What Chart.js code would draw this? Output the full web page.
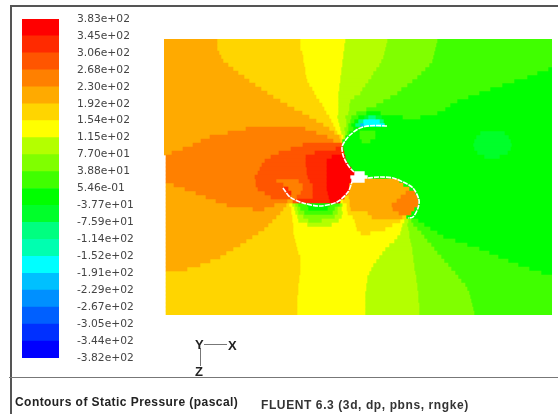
<!DOCTYPE html>
<html>
<head>
<meta charset="utf-8">
<script src="https://cdn.jsdelivr.net/npm/chart.js@4"></script>
<style>
  html, body { margin: 0; padding: 0; background: #fff; overflow: hidden; }
  #page { position: relative; width: 558px; height: 414px; filter: blur(0.55px); }
  #page canvas, .line, .txt { position: absolute; }
  .line { background: #555; }
  .txt { font-family: "Liberation Sans", sans-serif; color: #222; white-space: nowrap; }
</style>
</head>
<body>
<div id="page">
  <div class="line" style="left:10px;top:5px;width:548px;height:2px"></div>
  <div class="line" style="left:10px;top:5px;width:2px;height:409px"></div>
  <div class="line" style="left:9px;top:377px;width:549px;height:1px;background:#777"></div>
  <div class="line" style="left:204px;top:344px;width:23px;height:1px;background:#777"></div>
  <div class="line" style="left:200px;top:348px;width:1px;height:18px;background:#777"></div>
  <div class="txt" style="left:195px;top:337px;font-size:13px;font-weight:bold">Y</div>
  <div class="txt" style="left:228px;top:338px;font-size:13px;font-weight:bold">X</div>
  <div class="txt" style="left:195px;top:364px;font-size:13px;font-weight:bold">Z</div>
  <div class="txt" style="left:15px;top:395px;font-size:12px;font-weight:bold;letter-spacing:.44px">Contours of Static Pressure (pascal)</div>
  <div class="txt" style="left:261px;top:398px;font-size:12px;letter-spacing:.6px;font-weight:bold;color:#333">FLUENT 6.3 (3d, dp, pbns, rngke)</div>
  <canvas id="bar" width="120" height="359" style="left:22px;top:9px"></canvas>
  <canvas id="field" width="388" height="276" style="left:164px;top:39px"></canvas>
  <canvas id="blade" width="388" height="276" style="left:164px;top:39px"></canvas>
</div>
<script>
// colour legend, top to bottom
const tickLabels = ['3.83e+02','3.45e+02','3.06e+02','2.68e+02','2.30e+02','1.92e+02','1.54e+02','1.15e+02','7.70e+01','3.88e+01','5.46e-01',
  '-3.77e+01','-7.59e+01','-1.14e+02','-1.52e+02','-1.91e+02','-2.29e+02','-2.67e+02','-3.05e+02','-3.44e+02','-3.82e+02'];
const levelColors = ['#ff0000','#ff2a00','#ff5500','#ff8000','#ffaa00','#ffd500','#ffff00','#b4ff00','#80ff00','#40ff00','#00ff00',
  '#00ff2a','#00ff80','#00ffb0','#00ffff','#00c0ff','#0090ff','#0060ff','#0030ff','#0000ff'];
const levelKeys = 'abcdefghijklmnopqrst';

// contour field, one string per row, top row first.
// each token is a level letter and the x where that run stops, "." means no data
const fieldRows = [
  'e217 f300 g345 h387 i437 j552',
  'e217 f300 g344 h386 i436 j552',
  'e217 f300 g344 h385 i435 j552',
  'e219 f302 g343 h384 i434 j552',
  'e221 f303 g343 h383 i433 j552',
  'e223 f303 g342 h381 i432 j552',
  'e228 f304 g342 h379 i429 j552',
  'e233 f305 g341 h376 i425 j548 k552',
  'e238 f305 g341 h373 i421 j537 k552',
  'e244 f306 g340 h371 i417 j527 k552',
  'e249 f307 g340 h368 i412 j514 k552',
  'e255 f309 g339 h365 i407 j502 k552',
  'e261 f312 g339 h362 i401 j490 k552',
  'e267 f314 g338 h360 i397 j479 k552',
  'e273 f316 g338 h354 i390 j468 k552',
  'e280 f319 g338 h350 i383 j457 k552',
  'e287 f322 g338 h349 i376 j450 k552',
  'e294 f324 g338 h349 i366 j445 k552',
  'e302 f326 g338 h348 i356 j366 k381 j437 k552',
  'e309 f329 g337 h345 i351 j358 k364 l368 m376 l382 k403 j420 k552',
  'e316 f331 g338 h346 i350 j354 k358 m363 o380 m384 k552',
  'e323 f333 g339 h346 i348 j351 k355 m360 p364 o385 k552',
  'e246 d305 e329 f335 g340 h344 i348 j353 k552',
  'e228 d316 e334 f337 g341 h345 i347 j349 k360 j375 k480 l505 k552',
  'e210 d327 e339 f341 g343 h345 k360 j375 k476 l509 k552',
  'e201 d333 e340 f342 k362 j370 k474 l511 k552',
  'e193 d303 c342 k473 l512 k552',
  'e183 d291 c336 b343 k474 l511 k552',
  'e172 d279 c315 b344 k477 l508 k552',
  '.166 d271 c306 b332 a345 k484 l500 k552',
  '.166 d265 c306 b327 a346 k552',
  '.166 d262 c306 b327 a348 k552',
  '.166 d260 c307 b327 a351 k552',
  '.166 d258 c307 b327 a354 .365 k552',
  '.166 d255 c308 b327 a350 .368 k552',
  '.166 d256 c276 d299 c310 b327 a351 .365 e399 k552',
  '.166 e174 d256 c283 d303 c313 b327 a349 e403 k552',
  '.166 e185 d258 c284 b288 d303 c313 b327 a349 e409 k552',
  '.166 e196 d265 c287 b291 d301 c313 b328 a347 e406 d415 k552',
  '.166 e206 d271 c290 d297 c313 b329 a344 f349 e401 d417 k552',
  '.166 e216 d287 e293 c298 b330 a340 g343 f350 e397 d418 k552',
  '.166 e227 d274 e286 f289 g292 h295 i298 j307 k330 j340 i342 h343 g347 f350 e392 d418 k552',
  '.166 e253 d264 e283 f291 g294 h297 i300 j308 k328 j335 i338 h342 g347 f351 e393 d414 k552',
  '.166 e280 f291 g295 h298 i304 j333 i338 h343 g348 f368 e399 d411 k552',
  '.166 e276 f292 g297 h303 i335 h342 g353 f372 e402 f406 k552',
  '.166 e272 f292 g298 h308 i322 h339 g355 f400 g404 h408 i411 j418 k552',
  '.166 e268 f293 g307 h332 g356 f392 g402 h407 i413 j424 k552',
  '.166 e264 f293 g357 f385 g401 h408 i417 j430 k552',
  '.166 e258 f293 g361 f370 g400 h409 i421 j437 k552',
  '.166 e252 f294 g397 h409 i424 j443 k552',
  '.166 e246 f295 g394 h410 i427 j455 k552',
  '.166 e240 f296 g389 h411 i431 j467 k552',
  '.166 e233 f297 g385 h412 i434 j479 k552',
  '.166 e226 f298 g382 h412 i437 j489 k552',
  '.166 e220 f300 g379 h413 i441 j498 k552',
  '.166 e210 f300 g376 h413 i444 j508 k552',
  '.166 e200 f300 g373 h414 i448 j518 k552',
  '.166 e187 f300 g371 h414 i451 j529 k552',
  '.166 f300 g369 h415 i455 j541 k552',
  '.166 f299 g367 h416 i458 j552',
  '.166 f299 g367 h416 i461 j552',
  '.166 f298 g366 h417 i465 j552',
  '.166 f298 g366 h417 i467 j552',
  '.166 f298 g365 h418 i469 j552',
  '.166 f297 g365 h418 i470 j552',
  '.166 f297 g365 h418 i471 j552',
  '.166 f297 g365 h419 i472 j552',
  '.166 f297 g365 h419 i473 j552',
  '.166 f297 g365 h419 i474 j552'
];

// white blade outlines
const bladeUpper = [[387,126],[375,125.5],[365,126.5],[358,129],[350,135],[345,141],[342,147],[343,155],[346,162],[350,168],[354,172]];
const bladeLower = [[283,188],[290,197],[303,203],[320,206],[337,202],[348,192],[352,182]];
const bladeRight = [[368,178],[380,177],[393,178],[403,182],[413,188],[419,200],[418,208],[413,217],[408,218]];

// turn the rows into floating bars, one dataset per level
const rowNames = fieldRows.map((r, i) => String(i));
const fieldSets = levelColors.map(c => ({ data: [], backgroundColor: c, borderWidth: 0 }));
fieldRows.forEach((row, i) => {
    let start = 164;
    row.split(' ').forEach(tok => {
        const key = tok[0], end = Number(tok.slice(1));
        if (key !== '.') {
            fieldSets[levelKeys.indexOf(key)].data.push({ x: [start, end], y: rowNames[i] });
        }
        start = end;
    });
});

new Chart(document.getElementById('field'), {
    type: 'bar',
    data: { labels: rowNames, datasets: fieldSets.filter(s => s.data.length) },
    options: {
        indexAxis: 'y',
        responsive: false,
        animation: false,
        devicePixelRatio: 1,
        layout: { padding: 0 },
        plugins: { legend: { display: false }, tooltip: { enabled: false } },
        datasets: { bar: { grouped: false, barPercentage: 1, categoryPercentage: 1 } },
        scales: {
            x: { type: 'linear', min: 164, max: 552, display: false },
            y: { display: false }
        }
    }
});

new Chart(document.getElementById('blade'), {
    type: 'scatter',
    data: {
        datasets: [bladeUpper, bladeLower, bladeRight].map(pts => ({
            data: pts.map(p => ({ x: p[0], y: p[1] })),
            showLine: true,
            borderColor: '#fff',
            borderWidth: 1.6,
            borderDash: [5, 1],
            pointRadius: 0,
            tension: 0.3
        }))
    },
    options: {
        responsive: false,
        animation: false,
        devicePixelRatio: 1,
        layout: { padding: 0 },
        plugins: { legend: { display: false }, tooltip: { enabled: false } },
        scales: {
            x: { min: 164, max: 552, display: false },
            y: { min: 39, max: 315, reverse: true, display: false }
        }
    }
});

// colour bar: stacked from the bottom, so walk the levels backwards
new Chart(document.getElementById('bar'), {
    type: 'bar',
    data: {
        labels: ['p'],
        datasets: levelColors.slice().reverse().map(c => ({ data: [1], backgroundColor: c, borderWidth: 0 }))
    },
    options: {
        responsive: false,
        animation: false,
        devicePixelRatio: 1,
        layout: { padding: { top: 10, bottom: 10 } },
        plugins: { legend: { display: false }, tooltip: { enabled: false } },
        datasets: { bar: { barPercentage: 1, categoryPercentage: 1 } },
        scales: {
            x: { stacked: true, display: false },
            y: {
                stacked: true,
                position: 'right',
                min: 0,
                max: 20,
                afterFit: s => { s.width = 83; },
                // the tick length only pushes the labels off the bar, nothing is stroked
                grid: { display: false, drawTicks: true, tickLength: 18 },
                border: { display: false },
                ticks: {
                    stepSize: 1,
                    autoSkip: false,
                    padding: 0,
                    color: '#444',
                    font: { family: 'DejaVu Sans', size: 10.7 },
                    callback: v => tickLabels[20 - v]
                }
            }
        }
    }
});
</script>
</body>
</html>
